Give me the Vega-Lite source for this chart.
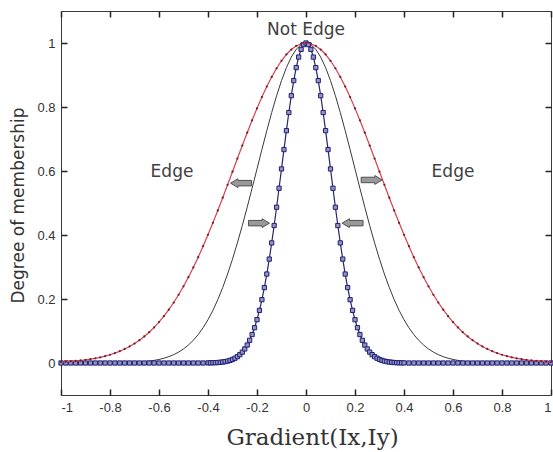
{
  "$schema": "https://vega.github.io/schema/vega-lite/v6.json",
  "width": 490,
  "height": 384,
  "autosize": "none",
  "padding": {"left": 61, "top": 11, "right": 2, "bottom": 57},
  "background": "white",
  "config": {
    "view": {"stroke": "#3a3a3a", "strokeWidth": 1},
    "axis": {"grid": false, "domain": false, "ticks": true, "tickColor": "#222222", "tickWidth": 1.5, "tickSize": 6, "labelFont": "Liberation Sans", "labelFontSize": 13, "labelColor": "#333", "zindex": 1}
  },
  "datasets": {
    "rk": [
      {"x": -1, "r": 0.0033, "k": 0}, {"x": -0.98, "r": 0.0041, "k": 0}, {"x": -0.96, "r": 0.0052, "k": 0}, {"x": -0.94, "r": 0.0064, "k": 0}, {"x": -0.92, "r": 0.0079, "k": 0},
      {"x": -0.9, "r": 0.0098, "k": 0}, {"x": -0.88, "r": 0.012, "k": 0}, {"x": -0.86, "r": 0.0146, "k": 0}, {"x": -0.84, "r": 0.0177, "k": 0.0001}, {"x": -0.82, "r": 0.0214, "k": 0.0002},
      {"x": -0.8, "r": 0.0258, "k": 0.0003}, {"x": -0.78, "r": 0.0309, "k": 0.0005}, {"x": -0.76, "r": 0.0369, "k": 0.0007}, {"x": -0.74, "r": 0.0438, "k": 0.001}, {"x": -0.72, "r": 0.0517, "k": 0.0015},
      {"x": -0.7, "r": 0.0608, "k": 0.0022}, {"x": -0.68, "r": 0.0712, "k": 0.0031}, {"x": -0.66, "r": 0.083, "k": 0.0043}, {"x": -0.64, "r": 0.0963, "k": 0.006}, {"x": -0.62, "r": 0.1112, "k": 0.0082},
      {"x": -0.6, "r": 0.1278, "k": 0.0111}, {"x": -0.58, "r": 0.1463, "k": 0.0149}, {"x": -0.56, "r": 0.1666, "k": 0.0198}, {"x": -0.54, "r": 0.189, "k": 0.0261}, {"x": -0.52, "r": 0.2133, "k": 0.034},
      {"x": -0.5, "r": 0.2397, "k": 0.0439}, {"x": -0.48, "r": 0.2681, "k": 0.0561}, {"x": -0.46, "r": 0.2985, "k": 0.071}, {"x": -0.44, "r": 0.3308, "k": 0.0889}, {"x": -0.42, "r": 0.3649, "k": 0.1103},
      {"x": -0.4, "r": 0.4008, "k": 0.1353}, {"x": -0.38, "r": 0.4382, "k": 0.1645}, {"x": -0.36, "r": 0.4768, "k": 0.1979}, {"x": -0.34, "r": 0.5166, "k": 0.2357}, {"x": -0.32, "r": 0.557, "k": 0.278},
      {"x": -0.3, "r": 0.5979, "k": 0.3247}, {"x": -0.28, "r": 0.6389, "k": 0.3753}, {"x": -0.26, "r": 0.6796, "k": 0.4296}, {"x": -0.24, "r": 0.7196, "k": 0.4868}, {"x": -0.22, "r": 0.7584, "k": 0.5461},
      {"x": -0.2, "r": 0.7957, "k": 0.6065}, {"x": -0.18, "r": 0.831, "k": 0.667}, {"x": -0.16, "r": 0.8639, "k": 0.7261}, {"x": -0.14, "r": 0.894, "k": 0.7827}, {"x": -0.12, "r": 0.921, "k": 0.8353},
      {"x": -0.1, "r": 0.9445, "k": 0.8825}, {"x": -0.08, "r": 0.9641, "k": 0.9231}, {"x": -0.06, "r": 0.9796, "k": 0.956}, {"x": -0.04, "r": 0.9909, "k": 0.9802}, {"x": -0.02, "r": 0.9977, "k": 0.995},
      {"x": 0, "r": 1, "k": 1},
      {"x": 0.02, "r": 0.9977, "k": 0.995}, {"x": 0.04, "r": 0.9909, "k": 0.9802}, {"x": 0.06, "r": 0.9796, "k": 0.956}, {"x": 0.08, "r": 0.9641, "k": 0.9231}, {"x": 0.1, "r": 0.9445, "k": 0.8825},
      {"x": 0.12, "r": 0.921, "k": 0.8353}, {"x": 0.14, "r": 0.894, "k": 0.7827}, {"x": 0.16, "r": 0.8639, "k": 0.7261}, {"x": 0.18, "r": 0.831, "k": 0.667}, {"x": 0.2, "r": 0.7957, "k": 0.6065},
      {"x": 0.22, "r": 0.7584, "k": 0.5461}, {"x": 0.24, "r": 0.7196, "k": 0.4868}, {"x": 0.26, "r": 0.6796, "k": 0.4296}, {"x": 0.28, "r": 0.6389, "k": 0.3753}, {"x": 0.3, "r": 0.5979, "k": 0.3247},
      {"x": 0.32, "r": 0.557, "k": 0.278}, {"x": 0.34, "r": 0.5166, "k": 0.2357}, {"x": 0.36, "r": 0.4768, "k": 0.1979}, {"x": 0.38, "r": 0.4382, "k": 0.1645}, {"x": 0.4, "r": 0.4008, "k": 0.1353},
      {"x": 0.42, "r": 0.3649, "k": 0.1103}, {"x": 0.44, "r": 0.3308, "k": 0.0889}, {"x": 0.46, "r": 0.2985, "k": 0.071}, {"x": 0.48, "r": 0.2681, "k": 0.0561}, {"x": 0.5, "r": 0.2397, "k": 0.0439},
      {"x": 0.52, "r": 0.2133, "k": 0.034}, {"x": 0.54, "r": 0.189, "k": 0.0261}, {"x": 0.56, "r": 0.1666, "k": 0.0198}, {"x": 0.58, "r": 0.1463, "k": 0.0149}, {"x": 0.6, "r": 0.1278, "k": 0.0111},
      {"x": 0.62, "r": 0.1112, "k": 0.0082}, {"x": 0.64, "r": 0.0963, "k": 0.006}, {"x": 0.66, "r": 0.083, "k": 0.0043}, {"x": 0.68, "r": 0.0712, "k": 0.0031}, {"x": 0.7, "r": 0.0608, "k": 0.0022},
      {"x": 0.72, "r": 0.0517, "k": 0.0015}, {"x": 0.74, "r": 0.0438, "k": 0.001}, {"x": 0.76, "r": 0.0369, "k": 0.0007}, {"x": 0.78, "r": 0.0309, "k": 0.0005}, {"x": 0.8, "r": 0.0258, "k": 0.0003},
      {"x": 0.82, "r": 0.0214, "k": 0.0002}, {"x": 0.84, "r": 0.0177, "k": 0.0001}, {"x": 0.86, "r": 0.0146, "k": 0}, {"x": 0.88, "r": 0.012, "k": 0}, {"x": 0.9, "r": 0.0098, "k": 0},
      {"x": 0.92, "r": 0.0079, "k": 0}, {"x": 0.94, "r": 0.0064, "k": 0}, {"x": 0.96, "r": 0.0052, "k": 0}, {"x": 0.98, "r": 0.0041, "k": 0}, {"x": 1, "r": 0.0033, "k": 0}
    ],
    "blue": [
      {"x": -1, "b": 0}, {"x": -0.98, "b": 0}, {"x": -0.96, "b": 0}, {"x": -0.94, "b": 0}, {"x": -0.92, "b": 0}, {"x": -0.9, "b": 0}, {"x": -0.88, "b": 0}, {"x": -0.86, "b": 0}, {"x": -0.84, "b": 0}, {"x": -0.82, "b": 0},
      {"x": -0.8, "b": 0}, {"x": -0.78, "b": 0}, {"x": -0.76, "b": 0}, {"x": -0.74, "b": 0}, {"x": -0.72, "b": 0}, {"x": -0.7, "b": 0}, {"x": -0.68, "b": 0}, {"x": -0.66, "b": 0}, {"x": -0.64, "b": 0}, {"x": -0.62, "b": 0},
      {"x": -0.6, "b": 0}, {"x": -0.58, "b": 0}, {"x": -0.56, "b": 0}, {"x": -0.54, "b": 0}, {"x": -0.52, "b": 0}, {"x": -0.5, "b": 0}, {"x": -0.48, "b": 0}, {"x": -0.46, "b": 0}, {"x": -0.44, "b": 0}, {"x": -0.42, "b": 0},
      {"x": -0.4, "b": 0.0003}, {"x": -0.39, "b": 0.0005}, {"x": -0.38, "b": 0.0007}, {"x": -0.37, "b": 0.001}, {"x": -0.36, "b": 0.0015}, {"x": -0.35, "b": 0.0022}, {"x": -0.34, "b": 0.0031}, {"x": -0.33, "b": 0.0043}, {"x": -0.32, "b": 0.006}, {"x": -0.31, "b": 0.0082},
      {"x": -0.3, "b": 0.0111}, {"x": -0.29, "b": 0.0149}, {"x": -0.28, "b": 0.0198}, {"x": -0.27, "b": 0.0261}, {"x": -0.26, "b": 0.034}, {"x": -0.25, "b": 0.0439}, {"x": -0.24, "b": 0.0561}, {"x": -0.23, "b": 0.071}, {"x": -0.22, "b": 0.0889}, {"x": -0.21, "b": 0.1103},
      {"x": -0.2, "b": 0.1353}, {"x": -0.19, "b": 0.1645}, {"x": -0.18, "b": 0.1979}, {"x": -0.17, "b": 0.2357}, {"x": -0.16, "b": 0.278}, {"x": -0.15, "b": 0.3247}, {"x": -0.14, "b": 0.3753}, {"x": -0.13, "b": 0.4296}, {"x": -0.12, "b": 0.4868}, {"x": -0.11, "b": 0.5461},
      {"x": -0.1, "b": 0.6065}, {"x": -0.09, "b": 0.667}, {"x": -0.08, "b": 0.7261}, {"x": -0.07, "b": 0.7827}, {"x": -0.06, "b": 0.8353}, {"x": -0.05, "b": 0.8825}, {"x": -0.04, "b": 0.9231}, {"x": -0.03, "b": 0.956}, {"x": -0.02, "b": 0.9802}, {"x": -0.01, "b": 0.995},
      {"x": 0, "b": 1},
      {"x": 0.01, "b": 0.995}, {"x": 0.02, "b": 0.9802}, {"x": 0.03, "b": 0.956}, {"x": 0.04, "b": 0.9231}, {"x": 0.05, "b": 0.8825}, {"x": 0.06, "b": 0.8353}, {"x": 0.07, "b": 0.7827}, {"x": 0.08, "b": 0.7261}, {"x": 0.09, "b": 0.667}, {"x": 0.1, "b": 0.6065},
      {"x": 0.11, "b": 0.5461}, {"x": 0.12, "b": 0.4868}, {"x": 0.13, "b": 0.4296}, {"x": 0.14, "b": 0.3753}, {"x": 0.15, "b": 0.3247}, {"x": 0.16, "b": 0.278}, {"x": 0.17, "b": 0.2357}, {"x": 0.18, "b": 0.1979}, {"x": 0.19, "b": 0.1645}, {"x": 0.2, "b": 0.1353},
      {"x": 0.21, "b": 0.1103}, {"x": 0.22, "b": 0.0889}, {"x": 0.23, "b": 0.071}, {"x": 0.24, "b": 0.0561}, {"x": 0.25, "b": 0.0439}, {"x": 0.26, "b": 0.034}, {"x": 0.27, "b": 0.0261}, {"x": 0.28, "b": 0.0198}, {"x": 0.29, "b": 0.0149}, {"x": 0.3, "b": 0.0111},
      {"x": 0.31, "b": 0.0082}, {"x": 0.32, "b": 0.006}, {"x": 0.33, "b": 0.0043}, {"x": 0.34, "b": 0.0031}, {"x": 0.35, "b": 0.0022}, {"x": 0.36, "b": 0.0015}, {"x": 0.37, "b": 0.001}, {"x": 0.38, "b": 0.0007}, {"x": 0.39, "b": 0.0005}, {"x": 0.4, "b": 0.0003},
      {"x": 0.42, "b": 0}, {"x": 0.44, "b": 0}, {"x": 0.46, "b": 0}, {"x": 0.48, "b": 0}, {"x": 0.5, "b": 0}, {"x": 0.52, "b": 0}, {"x": 0.54, "b": 0}, {"x": 0.56, "b": 0}, {"x": 0.58, "b": 0}, {"x": 0.6, "b": 0},
      {"x": 0.62, "b": 0}, {"x": 0.64, "b": 0}, {"x": 0.66, "b": 0}, {"x": 0.68, "b": 0}, {"x": 0.7, "b": 0}, {"x": 0.72, "b": 0}, {"x": 0.74, "b": 0}, {"x": 0.76, "b": 0}, {"x": 0.78, "b": 0}, {"x": 0.8, "b": 0},
      {"x": 0.82, "b": 0}, {"x": 0.84, "b": 0}, {"x": 0.86, "b": 0}, {"x": 0.88, "b": 0}, {"x": 0.9, "b": 0}, {"x": 0.92, "b": 0}, {"x": 0.94, "b": 0}, {"x": 0.96, "b": 0}, {"x": 0.98, "b": 0}, {"x": 1, "b": 0}
    ],
    "notes": [
      {"x": -0.547, "y": 0.597, "t": "Edge"},
      {"x": 0.6, "y": 0.597, "t": "Edge"},
      {"x": 0.0, "y": 1.04, "t": "Not Edge"}
    ],
    "arrows": [
      {"x": -0.265, "y": 0.562, "d": "L"},
      {"x": -0.192, "y": 0.437, "d": "R"},
      {"x": 0.19, "y": 0.437, "d": "L"},
      {"x": 0.268, "y": 0.572, "d": "R"}
    ]
  },
  "layer": [
    {
      "data": {"name": "rk"},
      "mark": {"type": "point", "opacity": 0},
      "encoding": {
        "x": {"field": "x", "type": "quantitative", "scale": {"domain": [-1, 1], "nice": false, "zero": false},
          "axis": {"orient": "bottom", "offset": -6, "values": [-1, -0.8, -0.6, -0.4, -0.2, 0, 0.2, 0.4, 0.6, 0.8, 1], "labelExpr": "'' + datum.value", "labelPadding": 6,
            "title": "Gradient(Ix,Iy)", "titleFont": "DejaVu Serif", "titleFontSize": 23, "titleFontWeight": "normal", "titleColor": "#333", "titleX": 251, "titleY": 48, "titleBaseline": "middle"}},
        "y": {"field": "r", "type": "quantitative", "scale": {"domain": [-0.1, 1.1], "nice": false, "zero": false},
          "axis": {"orient": "left", "offset": -6, "values": [0, 0.2, 0.4, 0.6, 0.8, 1], "labelExpr": "'' + datum.value", "labelPadding": 6,
            "title": "Degree of membership", "titleFont": "DejaVu Sans", "titleFontSize": 17, "titleFontWeight": "normal", "titleColor": "#333", "titleX": -49, "titleY": 194, "titleAngle": -90, "titleAlign": "center", "titleBaseline": "middle"}}
      }
    },
    {
      "data": {"name": "rk"},
      "mark": {"type": "point", "opacity": 0},
      "encoding": {
        "x": {"field": "x", "type": "quantitative", "scale": {"domain": [-1, 1], "nice": false, "zero": false},
          "axis": {"orient": "top", "offset": -6, "values": [-1, -0.8, -0.6, -0.4, -0.2, 0, 0.2, 0.4, 0.6, 0.8, 1], "labels": false, "title": null}},
        "y": {"field": "r", "type": "quantitative", "scale": {"domain": [-0.1, 1.1], "nice": false, "zero": false},
          "axis": {"orient": "right", "offset": -6, "values": [0, 0.2, 0.4, 0.6, 0.8, 1], "labels": false, "title": null}}
      }
    },
    {
      "data": {"name": "rk"},
      "mark": {"type": "line", "color": "#3a3a3a", "strokeWidth": 1},
      "encoding": {
        "x": {"field": "x", "type": "quantitative", "scale": {"domain": [-1, 1], "nice": false, "zero": false}, "axis": null},
        "y": {"field": "k", "type": "quantitative", "scale": {"domain": [-0.1, 1.1], "nice": false, "zero": false}, "axis": null}
      }
    },
    {
      "data": {"name": "blue"},
      "mark": {"type": "line", "color": "#26266a", "strokeWidth": 1.2,
        "point": {"shape": "square", "size": 18, "filled": true, "fill": "#9696b4", "stroke": "#1e1e80", "strokeWidth": 1}},
      "encoding": {
        "x": {"field": "x", "type": "quantitative", "scale": {"domain": [-1, 1], "nice": false, "zero": false}, "axis": null},
        "y": {"field": "b", "type": "quantitative", "scale": {"domain": [-0.1, 1.1], "nice": false, "zero": false}, "axis": null}
      }
    },
    {
      "data": {"name": "rk"},
      "mark": {"type": "line", "color": "#d8404e", "strokeWidth": 1.2,
        "point": {"filled": true, "size": 5, "color": "#6a2030"}},
      "encoding": {
        "x": {"field": "x", "type": "quantitative", "scale": {"domain": [-1, 1], "nice": false, "zero": false}, "axis": null},
        "y": {"field": "r", "type": "quantitative", "scale": {"domain": [-0.1, 1.1], "nice": false, "zero": false}, "axis": null}
      }
    },
    {
      "data": {"name": "notes"},
      "mark": {"type": "text", "font": "DejaVu Sans", "fontSize": 17, "color": "#404040", "align": "center", "baseline": "middle"},
      "encoding": {
        "x": {"field": "x", "type": "quantitative", "scale": {"domain": [-1, 1], "nice": false, "zero": false}, "axis": null},
        "y": {"field": "y", "type": "quantitative", "scale": {"domain": [-0.1, 1.1], "nice": false, "zero": false}, "axis": null},
        "text": {"field": "t"}
      }
    },
    {
      "data": {"name": "arrows"},
      "mark": {"type": "point", "filled": true, "fill": "#999999", "stroke": "#505050", "strokeWidth": 1, "opacity": 1, "size": 441},
      "encoding": {
        "x": {"field": "x", "type": "quantitative", "scale": {"domain": [-1, 1], "nice": false, "zero": false}, "axis": null},
        "y": {"field": "y", "type": "quantitative", "scale": {"domain": [-0.1, 1.1], "nice": false, "zero": false}, "axis": null},
        "shape": {"field": "d", "type": "nominal", "legend": null,
          "scale": {"domain": ["L", "R"], "range": ["M1,-0.26L-0.3,-0.26L-0.3,-0.42L-1,0L-0.3,0.42L-0.3,0.26L1,0.26Z", "M-1,-0.26L0.3,-0.26L0.3,-0.42L1,0L0.3,0.42L0.3,0.26L-1,0.26Z"]}}
      }
    }
  ],
  "resolve": {"axis": {"x": "independent", "y": "independent"}}
}
